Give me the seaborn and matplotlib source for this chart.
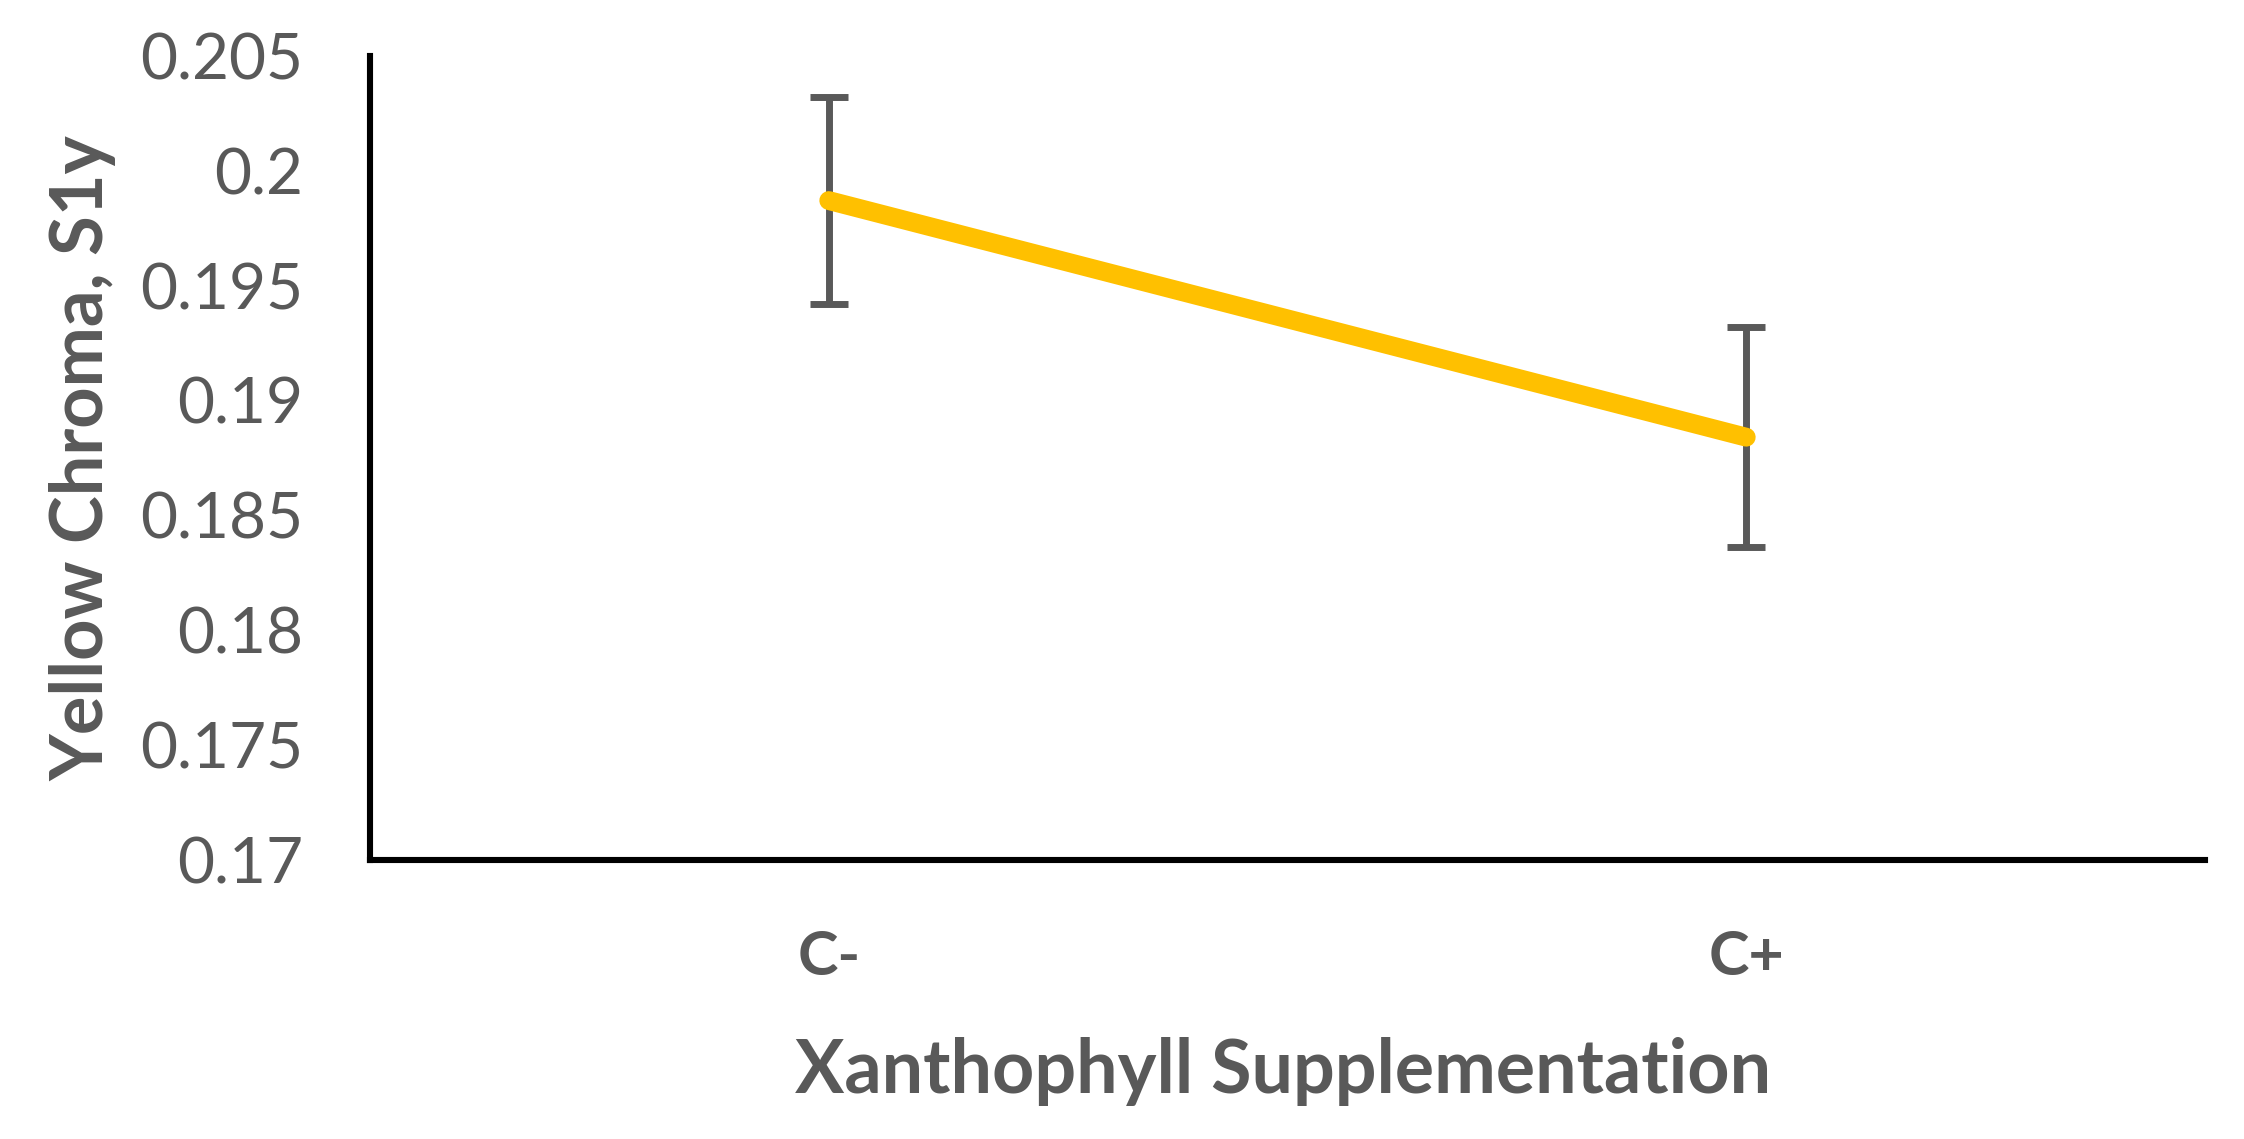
import pandas as pd
import matplotlib.pyplot as plt
import seaborn as sns

# Values
groups = ["C-", "C+"]
means = [0.1987, 0.1884]
errors = [0.0045, 0.0048]
y_ticks = [0.17, 0.175, 0.18, 0.185, 0.19, 0.195, 0.2, 0.205]
y_tick_labels = ["0.17", "0.175", "0.18", "0.185", "0.19", "0.195", "0.2", "0.205"]

sns.set_style("white")
plt.rcParams['font.family'] = ['Lato', 'DejaVu Sans']

gray = '#595959'
df = pd.DataFrame({'group': groups, 'mean': means, 'err': errors})

fig = plt.figure(figsize=(11.22, 5.695), dpi=200)
ax = fig.add_axes([0.1649, 0.245, 0.8177, 0.706])

# error bars first so the yellow line sits on top
ax.errorbar(df['group'], df['mean'], yerr=df['err'], fmt='none',
            ecolor=gray, elinewidth=2.5, capsize=6.7, capthick=2.5, zorder=1)
sns.lineplot(data=df, x='group', y='mean', color='#FFC000', linewidth=6.8,
             solid_capstyle='round', ax=ax, zorder=2)

ax.set_xlim(-0.5, 1.5)
ax.set_ylim(0.17, 0.205)
ax.set_yticks(y_ticks)
ax.set_yticklabels(y_tick_labels)

for side in ['top', 'right']:
    ax.spines[side].set_visible(False)
for side in ['left', 'bottom']:
    ax.spines[side].set_color('black')
    ax.spines[side].set_linewidth(2.2)

ax.tick_params(axis='y', length=0, pad=24, labelsize=23, labelcolor=gray)
ax.tick_params(axis='x', length=0, pad=25, labelsize=22, labelcolor=gray)
for lbl in ax.get_xticklabels():
    lbl.set_fontweight('bold')

ax.set_xlabel("Xanthophyll Supplementation", fontsize=26.5, fontweight='bold', color=gray)
ax.set_ylabel("Yellow Chroma, S1y", fontsize=26, fontweight='bold', color=gray)
ax.xaxis.set_label_coords(0.4975, -0.22)
ax.yaxis.set_label_coords(-0.138, 0.5)

fig.savefig("out.png", dpi=200)
